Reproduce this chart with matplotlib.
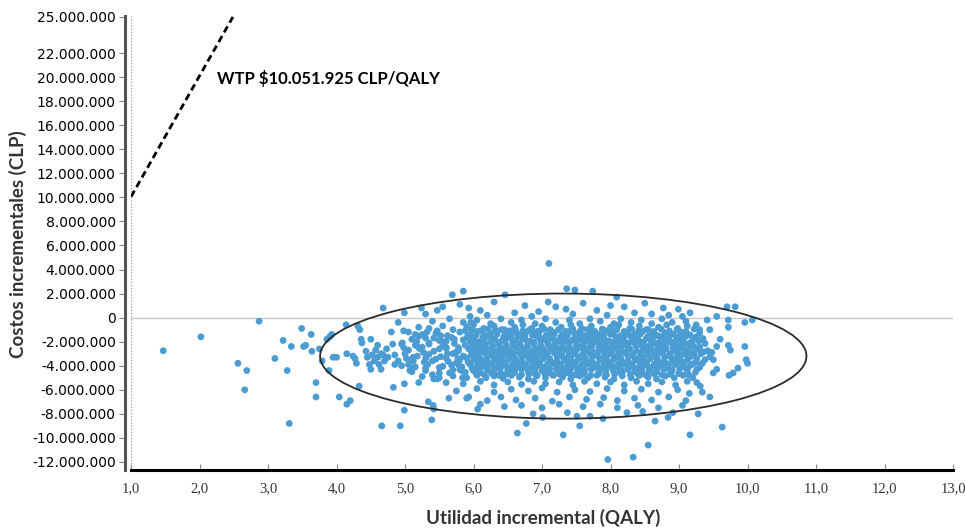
import matplotlib
matplotlib.use("Agg")
from matplotlib import pyplot as plt
from matplotlib.patches import Ellipse
import numpy as np

# incremental QALY (x) vs incremental cost in millions CLP (y)
points_left = [
    (1.47, -2.75), (2.02, -1.6), (2.87, -0.3), (2.56, -3.8), (2.69, -4.4), (2.66, -6.0),
    (3.10, -3.4), (3.22, -1.9), (3.28, -4.4), (3.34, -2.4), (3.31, -8.8), (3.49, -0.9),
    (3.52, -2.4), (3.55, -2.3), (3.63, -1.4), (3.64, -2.8), (3.70, -5.4), (3.70, -6.6),
    (3.75, -2.6), (3.79, -3.6), (3.86, -1.8), (3.90, -1.6), (3.93, -1.4), (3.89, -4.4),
    (3.95, -3.3), (4.00, -3.3), (4.04, -6.6), (4.14, -0.6), (4.15, -3.0), (4.15, -7.2),
    (4.20, -6.9), (4.24, -3.2), (4.27, -3.4), (4.29, -3.8), (4.31, -0.7), (4.34, -1.0),
    (4.33, -5.7), (4.36, -1.8), (4.37, -2.1), (4.43, -2.8), (4.45, -3.3), (4.48, -3.9),
    (4.50, -4.3), (4.50, -1.8), (4.52, -3.1), (4.55, -3.6), (4.57, -2.7), (4.60, -3.3),
    (4.60, -2.3), (4.62, -3.9), (4.65, -4.3), (4.65, -3.0), (4.68, 0.8), (4.66, -9.0),
    (4.68, -3.1), (4.70, -3.6), (4.73, -2.6), (4.75, -3.3), (4.80, -1.2), (4.82, -2.2),
    (4.83, -5.8), (4.85, -3.9), (4.90, -0.4), (4.96, -2.1), (4.98, -2.5), (4.98, -1.1),
    (4.93, -9.0), (4.99, 0.4), (4.99, -7.7), (4.99, -5.5), (5.02, -3.4), (5.05, -3.9),
    (5.07, -4.4), (5.10, -4.2), (5.12, -3.6), (5.15, -1.4), (5.17, -2.0), (5.20, -2.5),
    (5.20, -5.4), (5.24, 0.8), (5.27, -2.9), (5.30, -3.4), (5.32, -1.2), (5.35, -2.2),
    (5.34, -7.0), (5.39, -8.5), (5.41, -7.3), (5.42, -7.6), (5.42, -5.1), (5.47, -5.1),
    (5.47, 0.6), (5.47, -1.1), (5.52, -1.5), (5.57, -2.0), (5.60, -2.5), (5.62, -3.0),
    (5.64, -6.7), (5.69, 1.9), (5.72, -1.8), (5.74, -2.9), (5.77, -3.4), (5.79, -4.0),
    (5.82, -4.4), (5.84, -5.0), (5.85, 2.2), (5.88, -1.1), (5.91, -1.6), (5.93, 0.8),
    (5.93, -6.6), (5.96, -0.4), (5.99, -2.4), (6.01, -3.4), (6.04, -4.6), (6.06, -7.6),
    (5.2, -1.55), (5.42, -1.7), (5.6, -2.0), (5.78, -2.5), (5.5, -2.6), (5.25, -2.45),
    (5.12, -3.3), (5.4, -3.6), (5.6, -3.35), (5.75, -3.75), (5.55, -4.05), (5.3, -4.2),
    (5.8, -4.3), (5.65, -4.6), (5.4, -4.75),
]

points_right = [
    (7.10, 4.5), (7.36, 2.4), (7.48, 2.3), (7.74, 2.2), (7.09, 1.3), (6.46, 1.9),
    (8.09, 1.7), (8.50, 1.2), (8.77, 0.8), (8.99, 0.7), (9.16, 0.4), (9.70, 0.9),
    (9.82, 0.9), (9.72, -0.2), (9.96, -0.4), (10.07, -0.2), (9.72, -0.8), (9.72, -2.3),
    (9.75, -2.7), (9.96, -2.4), (9.98, -3.5), (10.00, -3.8), (9.86, -4.2), (9.79, -4.6),
    (9.73, -4.8), (9.63, -9.1), (9.16, -9.75), (8.55, -10.6), (8.33, -11.6), (7.96, -11.8),
    (7.31, -9.75), (6.64, -9.6), (6.77, -8.8), (7.55, -9.0), (7.89, -8.4), (8.65, -8.6),
    (8.84, -8.3), (8.91, -7.9), (9.28, -8.0), (9.45, -6.6), (9.34, -6.2), (9.31, -5.7),
    (9.26, -5.4), (9.50, -4.6), (9.55, -4.3), (9.50, -3.5), (9.48, -2.9), (9.55, -2.4),
    (9.60, -1.8), (9.55, 0.1), (9.41, -0.2), (9.45, -1.0), (6.87, -8.0), (7.01, -8.3),
    (7.37, -7.9), (7.51, -8.2), (7.70, -8.2), (8.24, -7.9), (8.47, -7.8),
]

points_core = [
    # above zero
    (5.55, 0.9), (5.8, 1.1), (6.1, 0.6), (6.3, 1.3), (6.6, 0.4), (6.75, 1.0), (6.95, 0.5),
    (7.2, 0.9), (7.45, 0.3), (7.6, 1.2), (7.8, 0.6), (7.95, 0.2), (8.2, 0.9), (8.35, 0.4),
    (8.6, 0.3), (8.85, 0.2), (9.05, 0.1), (6.2, 0.2), (6.85, 0.1), (7.35, 0.7), (8.0, 1.0),
    (5.3, 0.3), (5.95, 0.1),
    # around zero
    (5.4, -0.3), (5.65, -0.1), (5.85, -0.4), (6.05, -0.2), (6.25, -0.5), (6.4, -0.1),
    (6.55, -0.4), (6.7, -0.2), (6.9, -0.5), (7.05, -0.1), (7.2, -0.4), (7.4, -0.2),
    (7.55, -0.5), (7.7, -0.1), (7.85, -0.3), (8.05, -0.5), (8.15, -0.1), (8.3, -0.4),
    (8.45, -0.2), (8.6, -0.5), (8.75, -0.1), (8.9, -0.4), (9.1, -0.3), (9.25, -0.6),
    # -0.8
    (5.2, -0.8), (5.35, -0.9), (5.55, -0.7), (5.7, -1.0), (5.9, -0.8), (6.0, -0.6),
    (6.15, -0.9), (6.3, -0.7), (6.45, -1.0), (6.6, -0.8), (6.72, -0.6), (6.85, -0.9),
    (7.0, -0.7), (7.12, -1.0), (7.28, -0.8), (7.42, -0.6), (7.58, -0.9), (7.72, -0.7),
    (7.88, -1.0), (8.0, -0.8), (8.12, -0.6), (8.28, -0.9), (8.42, -0.7), (8.55, -1.0),
    (8.7, -0.8), (8.82, -0.6), (8.98, -0.9), (9.12, -0.7), (9.3, -1.0),
    # -1.05
    (5.98, -1.0), (6.1, -1.1), (6.21, -0.95), (6.31, -1.15), (6.41, -1.0), (6.52, -1.1),
    (6.61, -0.95), (6.72, -1.1), (6.82, -1.0), (6.93, -1.15), (7.03, -0.95), (7.13, -1.1),
    (7.24, -1.0), (7.35, -1.15), (7.45, -0.95), (7.56, -1.1), (7.66, -1.0), (7.77, -1.15),
    (7.88, -0.95), (7.98, -1.1), (8.09, -1.0), (8.2, -1.15), (8.31, -0.95), (8.41, -1.1),
    (8.52, -1.0), (8.63, -1.15), (8.74, -0.95), (8.86, -1.1), (8.97, -1.0), (9.1, -1.15),
    (9.22, -0.95),
    # -1.3
    (5.05, -1.2), (5.25, -1.4), (5.45, -1.3), (5.62, -1.5), (5.8, -1.2), (5.95, -1.4),
    (6.05, -1.15), (6.16, -1.45), (6.25, -1.3), (6.36, -1.1), (6.46, -1.4), (6.57, -1.25),
    (6.66, -1.5), (6.77, -1.2), (6.88, -1.35), (6.97, -1.1), (7.08, -1.45), (7.18, -1.25),
    (7.3, -1.4), (7.4, -1.15), (7.5, -1.35), (7.62, -1.5), (7.71, -1.2), (7.83, -1.4),
    (7.93, -1.1), (8.04, -1.3), (8.15, -1.5), (8.25, -1.2), (8.36, -1.4), (8.47, -1.15),
    (8.58, -1.35), (8.69, -1.5), (8.8, -1.25), (8.92, -1.4), (9.03, -1.2), (9.16, -1.45),
    (9.3, -1.3),
    # -1.5
    (5.93, -1.55), (6.04, -1.45), (6.14, -1.6), (6.24, -1.5), (6.34, -1.4), (6.44, -1.6),
    (6.55, -1.5), (6.65, -1.35), (6.75, -1.55), (6.86, -1.45), (6.96, -1.6), (7.06, -1.5),
    (7.17, -1.4), (7.27, -1.6), (7.37, -1.5), (7.48, -1.4), (7.58, -1.55), (7.69, -1.45),
    (7.79, -1.6), (7.9, -1.5), (8.0, -1.4), (8.11, -1.6), (8.22, -1.45), (8.32, -1.55),
    (8.43, -1.4), (8.54, -1.6), (8.65, -1.45), (8.76, -1.55), (8.87, -1.4), (8.99, -1.6),
    (9.11, -1.5), (9.25, -1.6),
    # -1.75
    (5.1, -1.8), (5.3, -1.7), (5.5, -1.9), (5.68, -1.65), (5.85, -1.85), (6.0, -1.7),
    (6.1, -1.95), (6.2, -1.6), (6.31, -1.8), (6.41, -1.95), (6.52, -1.65), (6.62, -1.85),
    (6.72, -1.7), (6.83, -1.95), (6.93, -1.6), (7.03, -1.8), (7.14, -1.7), (7.24, -1.95),
    (7.35, -1.65), (7.45, -1.85), (7.56, -1.7), (7.66, -1.9), (7.77, -1.6), (7.87, -1.8),
    (7.98, -1.95), (8.08, -1.7), (8.19, -1.85), (8.3, -1.6), (8.41, -1.9), (8.52, -1.75),
    (8.63, -1.6), (8.74, -1.9), (8.85, -1.7), (8.96, -1.85), (9.08, -1.65), (9.2, -1.9),
    (9.35, -1.75),
    # -1.95
    (5.95, -1.95), (6.05, -2.05), (6.15, -1.9), (6.26, -2.0), (6.36, -2.1), (6.46, -1.9),
    (6.57, -2.0), (6.67, -2.1), (6.77, -1.9), (6.88, -2.05), (6.98, -1.95), (7.09, -2.1),
    (7.19, -1.9), (7.3, -2.0), (7.4, -2.1), (7.51, -1.9), (7.61, -2.05), (7.72, -1.95),
    (7.83, -2.1), (7.93, -1.9), (8.04, -2.05), (8.15, -1.95), (8.26, -2.1), (8.37, -1.9),
    (8.48, -2.05), (8.59, -1.95), (8.7, -2.1), (8.81, -1.9), (8.92, -2.05), (9.04, -1.95),
    (9.16, -2.1), (9.29, -1.95),
    # -2.2
    (4.95, -2.2), (5.15, -2.3), (5.35, -2.1), (5.55, -2.35), (5.72, -2.15), (5.88, -2.3),
    (5.98, -2.05), (6.08, -2.35), (6.18, -2.2), (6.28, -2.4), (6.38, -2.1), (6.48, -2.3),
    (6.58, -2.05), (6.68, -2.25), (6.78, -2.4), (6.88, -2.15), (6.98, -2.3), (7.08, -2.05),
    (7.19, -2.25), (7.29, -2.4), (7.39, -2.1), (7.5, -2.3), (7.6, -2.15), (7.7, -2.4),
    (7.81, -2.05), (7.91, -2.25), (8.02, -2.4), (8.12, -2.1), (8.23, -2.3), (8.33, -2.05),
    (8.44, -2.25), (8.54, -2.4), (8.65, -2.15), (8.76, -2.3), (8.87, -2.05), (8.98, -2.35),
    (9.1, -2.2), (9.22, -2.4), (9.38, -2.15),
    # -2.45
    (5.97, -2.45), (6.07, -2.5), (6.17, -2.4), (6.27, -2.55), (6.38, -2.45), (6.48, -2.5),
    (6.58, -2.35), (6.69, -2.5), (6.79, -2.4), (6.89, -2.55), (7.0, -2.45), (7.1, -2.35),
    (7.2, -2.5), (7.31, -2.45), (7.41, -2.55), (7.52, -2.4), (7.62, -2.5), (7.73, -2.35),
    (7.83, -2.5), (7.94, -2.45), (8.05, -2.55), (8.15, -2.4), (8.26, -2.5), (8.37, -2.35),
    (8.48, -2.5), (8.58, -2.45), (8.69, -2.55), (8.8, -2.4), (8.91, -2.5), (9.03, -2.35),
    (9.15, -2.5), (9.3, -2.45),
    # -2.65
    (5.05, -2.7), (5.22, -2.6), (5.42, -2.8), (5.6, -2.55), (5.78, -2.75), (5.93, -2.6),
    (6.03, -2.8), (6.13, -2.55), (6.23, -2.7), (6.33, -2.85), (6.43, -2.6), (6.53, -2.75),
    (6.63, -2.5), (6.73, -2.7), (6.83, -2.85), (6.93, -2.6), (7.03, -2.75), (7.13, -2.55),
    (7.24, -2.8), (7.34, -2.6), (7.44, -2.75), (7.55, -2.5), (7.65, -2.7), (7.75, -2.85),
    (7.86, -2.6), (7.96, -2.75), (8.07, -2.55), (8.17, -2.8), (8.28, -2.6), (8.38, -2.75),
    (8.49, -2.5), (8.6, -2.7), (8.7, -2.85), (8.81, -2.6), (8.92, -2.75), (9.04, -2.55),
    (9.15, -2.8), (9.28, -2.6), (9.42, -2.75),
    # -2.9
    (5.98, -2.9), (6.08, -2.95), (6.18, -2.85), (6.28, -3.0), (6.38, -2.9), (6.48, -2.8),
    (6.58, -2.95), (6.68, -2.85), (6.78, -3.0), (6.88, -2.9), (6.98, -2.8), (7.08, -2.95),
    (7.19, -2.85), (7.29, -3.0), (7.39, -2.9), (7.49, -2.8), (7.6, -2.95), (7.7, -2.85),
    (7.81, -3.0), (7.91, -2.9), (8.02, -2.8), (8.12, -2.95), (8.23, -2.85), (8.33, -3.0),
    (8.44, -2.9), (8.55, -2.8), (8.65, -2.95), (8.76, -2.85), (8.87, -3.0), (8.98, -2.9),
    (9.1, -2.8), (9.22, -2.95), (9.36, -2.85),
    # -3.1
    (4.85, -3.1), (5.0, -3.0), (5.18, -3.2), (5.35, -3.05), (5.52, -3.25), (5.7, -3.0),
    (5.85, -3.2), (5.97, -3.05), (6.07, -3.25), (6.17, -2.95), (6.27, -3.15), (6.37, -3.3),
    (6.47, -3.0), (6.57, -3.2), (6.67, -2.95), (6.77, -3.15), (6.87, -3.3), (6.97, -3.05),
    (7.07, -3.2), (7.18, -2.95), (7.28, -3.15), (7.38, -3.3), (7.48, -3.0), (7.59, -3.2),
    (7.69, -2.95), (7.8, -3.15), (7.9, -3.3), (8.0, -3.0), (8.11, -3.2), (8.21, -2.95),
    (8.32, -3.15), (8.42, -3.3), (8.53, -3.0), (8.64, -3.2), (8.74, -2.95), (8.85, -3.15),
    (8.96, -3.3), (9.07, -3.05), (9.19, -3.2), (9.32, -3.0), (9.45, -3.25),
    # -3.35
    (5.9, -3.35), (6.0, -3.3), (6.1, -3.4), (6.2, -3.3), (6.3, -3.45), (6.41, -3.35),
    (6.51, -3.25), (6.61, -3.4), (6.71, -3.3), (6.81, -3.45), (6.91, -3.35), (7.01, -3.25),
    (7.11, -3.4), (7.22, -3.3), (7.32, -3.45), (7.42, -3.35), (7.53, -3.25), (7.63, -3.4),
    (7.73, -3.3), (7.84, -3.45), (7.94, -3.35), (8.05, -3.25), (8.15, -3.4), (8.26, -3.3),
    (8.36, -3.45), (8.47, -3.35), (8.57, -3.25), (8.68, -3.4), (8.79, -3.3), (8.9, -3.45),
    (9.01, -3.35), (9.13, -3.25), (9.26, -3.4),
    # -3.55
    (4.9, -3.6), (5.1, -3.5), (5.28, -3.7), (5.45, -3.45), (5.63, -3.65), (5.8, -3.5),
    (5.92, -3.7), (6.02, -3.45), (6.12, -3.6), (6.22, -3.75), (6.32, -3.5), (6.42, -3.65),
    (6.52, -3.4), (6.62, -3.6), (6.72, -3.75), (6.82, -3.5), (6.92, -3.65), (7.02, -3.4),
    (7.12, -3.6), (7.23, -3.75), (7.33, -3.5), (7.43, -3.65), (7.54, -3.4), (7.64, -3.6),
    (7.74, -3.75), (7.85, -3.5), (7.95, -3.65), (8.06, -3.4), (8.16, -3.6), (8.27, -3.75),
    (8.37, -3.5), (8.48, -3.65), (8.58, -3.4), (8.69, -3.6), (8.8, -3.75), (8.9, -3.5),
    (9.01, -3.65), (9.13, -3.45), (9.25, -3.7), (9.38, -3.5),
    # -3.8
    (5.96, -3.8), (6.06, -3.85), (6.16, -3.75), (6.27, -3.9), (6.37, -3.8), (6.47, -3.7),
    (6.57, -3.85), (6.67, -3.75), (6.77, -3.9), (6.87, -3.8), (6.97, -3.7), (7.08, -3.85),
    (7.18, -3.75), (7.28, -3.9), (7.38, -3.8), (7.49, -3.7), (7.59, -3.85), (7.69, -3.75),
    (7.8, -3.9), (7.9, -3.8), (8.01, -3.7), (8.11, -3.85), (8.22, -3.75), (8.32, -3.9),
    (8.43, -3.8), (8.53, -3.7), (8.64, -3.85), (8.75, -3.75), (8.85, -3.9), (8.96, -3.8),
    (9.08, -3.7), (9.2, -3.85), (9.34, -3.8),
    # -4.0
    (4.95, -4.0), (5.15, -4.1), (5.33, -3.9), (5.5, -4.15), (5.68, -3.95), (5.83, -4.1),
    (5.95, -3.9), (6.05, -4.15), (6.15, -4.0), (6.25, -3.85), (6.35, -4.1), (6.45, -3.95),
    (6.55, -4.2), (6.65, -3.9), (6.75, -4.05), (6.85, -4.2), (6.95, -3.95), (7.05, -4.1),
    (7.16, -3.85), (7.26, -4.05), (7.36, -4.2), (7.46, -3.95), (7.57, -4.1), (7.67, -3.85),
    (7.78, -4.05), (7.88, -4.2), (7.98, -3.95), (8.09, -4.1), (8.19, -3.85), (8.3, -4.05),
    (8.4, -4.2), (8.51, -3.9), (8.62, -4.1), (8.72, -3.95), (8.83, -4.2), (8.94, -3.9),
    (9.05, -4.1), (9.17, -3.95), (9.3, -4.15),
    # -4.25
    (5.98, -4.25), (6.09, -4.3), (6.19, -4.2), (6.29, -4.35), (6.39, -4.25), (6.5, -4.15),
    (6.6, -4.3), (6.7, -4.2), (6.8, -4.35), (6.9, -4.25), (7.01, -4.15), (7.11, -4.3),
    (7.21, -4.2), (7.31, -4.35), (7.42, -4.25), (7.52, -4.15), (7.62, -4.3), (7.73, -4.2),
    (7.83, -4.35), (7.94, -4.25), (8.04, -4.15), (8.15, -4.3), (8.25, -4.2), (8.36, -4.35),
    (8.46, -4.25), (8.57, -4.15), (8.68, -4.3), (8.79, -4.2), (8.9, -4.35), (9.01, -4.25),
    (9.13, -4.15), (9.26, -4.3),
    # -4.45
    (5.1, -4.5), (5.3, -4.4), (5.5, -4.6), (5.7, -4.35), (5.88, -4.55), (6.0, -4.4),
    (6.1, -4.6), (6.2, -4.35), (6.3, -4.5), (6.4, -4.65), (6.5, -4.4), (6.6, -4.55),
    (6.7, -4.3), (6.8, -4.5), (6.9, -4.65), (7.0, -4.4), (7.1, -4.55), (7.21, -4.3),
    (7.31, -4.5), (7.41, -4.65), (7.52, -4.4), (7.62, -4.55), (7.72, -4.3), (7.83, -4.5),
    (7.93, -4.65), (8.04, -4.4), (8.14, -4.55), (8.25, -4.3), (8.35, -4.5), (8.46, -4.65),
    (8.56, -4.4), (8.67, -4.55), (8.78, -4.3), (8.89, -4.5), (9.0, -4.65), (9.12, -4.4),
    (9.24, -4.55),
    # -4.7
    (6.05, -4.7), (6.16, -4.75), (6.26, -4.65), (6.37, -4.8), (6.48, -4.7), (6.59, -4.6),
    (6.7, -4.75), (6.81, -4.7), (6.93, -4.8), (7.04, -4.65), (7.15, -4.75), (7.26, -4.7),
    (7.37, -4.6), (7.49, -4.75), (7.6, -4.7), (7.71, -4.8), (7.83, -4.65), (7.94, -4.75),
    (8.06, -4.7), (8.17, -4.6), (8.29, -4.75), (8.4, -4.7), (8.52, -4.8), (8.63, -4.65),
    (8.75, -4.75), (8.87, -4.7), (9.0, -4.6), (9.14, -4.75),
    # -4.9
    (5.25, -4.9), (5.5, -5.0), (5.7, -4.85), (5.9, -5.0), (6.05, -4.8), (6.18, -5.0),
    (6.3, -4.85), (6.43, -5.05), (6.55, -4.8), (6.67, -4.95), (6.8, -5.1), (6.92, -4.85),
    (7.05, -5.0), (7.17, -4.8), (7.3, -4.95), (7.42, -5.1), (7.55, -4.85), (7.67, -5.0),
    (7.8, -4.8), (7.92, -4.95), (8.05, -5.1), (8.17, -4.85), (8.3, -5.0), (8.42, -4.8),
    (8.55, -4.95), (8.67, -5.1), (8.8, -4.85), (8.93, -5.0), (9.06, -4.8), (9.2, -5.0),
    # -5.4
    (5.6, -5.4), (5.85, -5.5), (6.1, -5.3), (6.3, -5.6), (6.5, -5.35), (6.7, -5.55),
    (6.88, -5.3), (7.05, -5.5), (7.25, -5.35), (7.45, -5.6), (7.62, -5.3), (7.8, -5.5),
    (8.0, -5.35), (8.2, -5.6), (8.38, -5.3), (8.55, -5.5), (8.75, -5.35), (8.95, -5.6),
    (9.12, -5.3),
    # -6.0
    (5.75, -6.1), (6.05, -5.9), (6.3, -6.2), (6.55, -5.95), (6.8, -6.1), (7.0, -5.85),
    (7.22, -6.2), (7.48, -6.0), (7.7, -6.15), (7.95, -5.9), (8.2, -6.1), (8.45, -5.95),
    (8.7, -6.2), (8.98, -6.0), (9.15, -6.3),
    # -6.7
    (5.9, -6.7), (6.2, -6.9), (6.4, -6.6), (6.62, -6.85), (6.9, -6.7), (7.15, -6.95),
    (7.4, -6.6), (7.65, -6.8), (7.9, -6.65), (8.1, -6.9), (8.35, -6.7), (8.6, -6.85),
    (8.85, -6.6), (9.1, -6.9),
    # -7.3
    (6.1, -7.2), (6.45, -7.4), (6.7, -7.3), (7.0, -7.5), (7.25, -7.2), (7.6, -7.4),
    (7.85, -7.2), (8.1, -7.5), (8.4, -7.3), (8.7, -7.5), (9.05, -7.3),
]

wtp = 10.051925  # millions CLP per QALY
y_ticks = [25, 22, 20, 18, 16, 14, 12, 10, 8, 6, 4, 2, 0, -2, -4, -6, -8, -10, -12]
x_ticks = [1, 2, 3, 4, 5, 6, 7, 8, 9, 10, 11, 12, 13]

# confidence ellipse (centre, width, height)
ell_center = (7.31, -3.2)
ell_width = 7.1
ell_height = 10.4


def miles(v):
    return "{:,}".format(int(v * 1000000)).replace(",", ".")


pts = np.array(points_left + points_core + points_right)

fig = plt.figure(figsize=(9.65, 5.31), dpi=100)
ax = fig.add_axes([0.1358, 0.1149, 0.8518, 0.855])

ax.axhline(0, color="#c8c8c8", lw=1.0, zorder=1)
ax.axvline(1.0, color="#9a9a9a", lw=0.9, ls=(0, (1, 1.5)), zorder=1)

ax.scatter(pts[:, 0], pts[:, 1], s=24, color="#4b9cd3", edgecolors="none", zorder=3)

ax.add_patch(Ellipse(ell_center, ell_width, ell_height, fill=False,
                     edgecolor="#2b2b2b", lw=1.3, zorder=4))

ax.plot([1.0, 25 / wtp], [wtp, 25], color="black", lw=2.0, ls=(0, (2.5, 1.5)), zorder=4)
ax.text(2.25, 19.9, "WTP $10.051.925 CLP/QALY", fontsize=12, fontweight="bold",
        family=["Lato", "DejaVu Sans"], va="center", ha="left")

ax.set_xlim(1.0, 13.0)
ax.set_ylim(-12.67, 25.08)

ax.set_xticks(x_ticks)
ax.set_xticklabels(["{:.1f}".format(v).replace(".", ",") for v in x_ticks])
ax.set_yticks(y_ticks)
ax.set_yticklabels([miles(v) for v in y_ticks])
for lab in ax.get_xticklabels():
    lab.set_fontfamily("Liberation Serif")
    lab.set_fontsize(10.5)
    lab.set_color("#333333")
for lab in ax.get_yticklabels():
    lab.set_fontfamily("Liberation Serif")
    lab.set_fontsize(9.5)
    lab.set_color("#333333")

ax.tick_params(axis="x", direction="in", length=4, color="#888888", pad=9)
ax.tick_params(axis="y", direction="out", length=4, color="#888888", pad=3)

for side in ["top", "right"]:
    ax.spines[side].set_visible(False)
ax.spines["bottom"].set_color("black")
ax.spines["bottom"].set_linewidth(2.2)
ax.spines["left"].set_color("#555555")
ax.spines["left"].set_linewidth(2.2)
ax.spines["left"].set_position(("outward", 4))

fig.text(0.563, 0.025, "Utilidad incremental (QALY)", fontsize=13.5, fontweight="bold",
         family=["Lato", "DejaVu Sans"], color="#333333", ha="center", va="center")
fig.text(0.019, 0.54, "Costos incrementales (CLP)", fontsize=13.5, fontweight="bold",
         family=["Lato", "DejaVu Sans"], color="#333333", ha="center", va="center",
         rotation=90)

fig.savefig("out.png", dpi=100, facecolor="w")
